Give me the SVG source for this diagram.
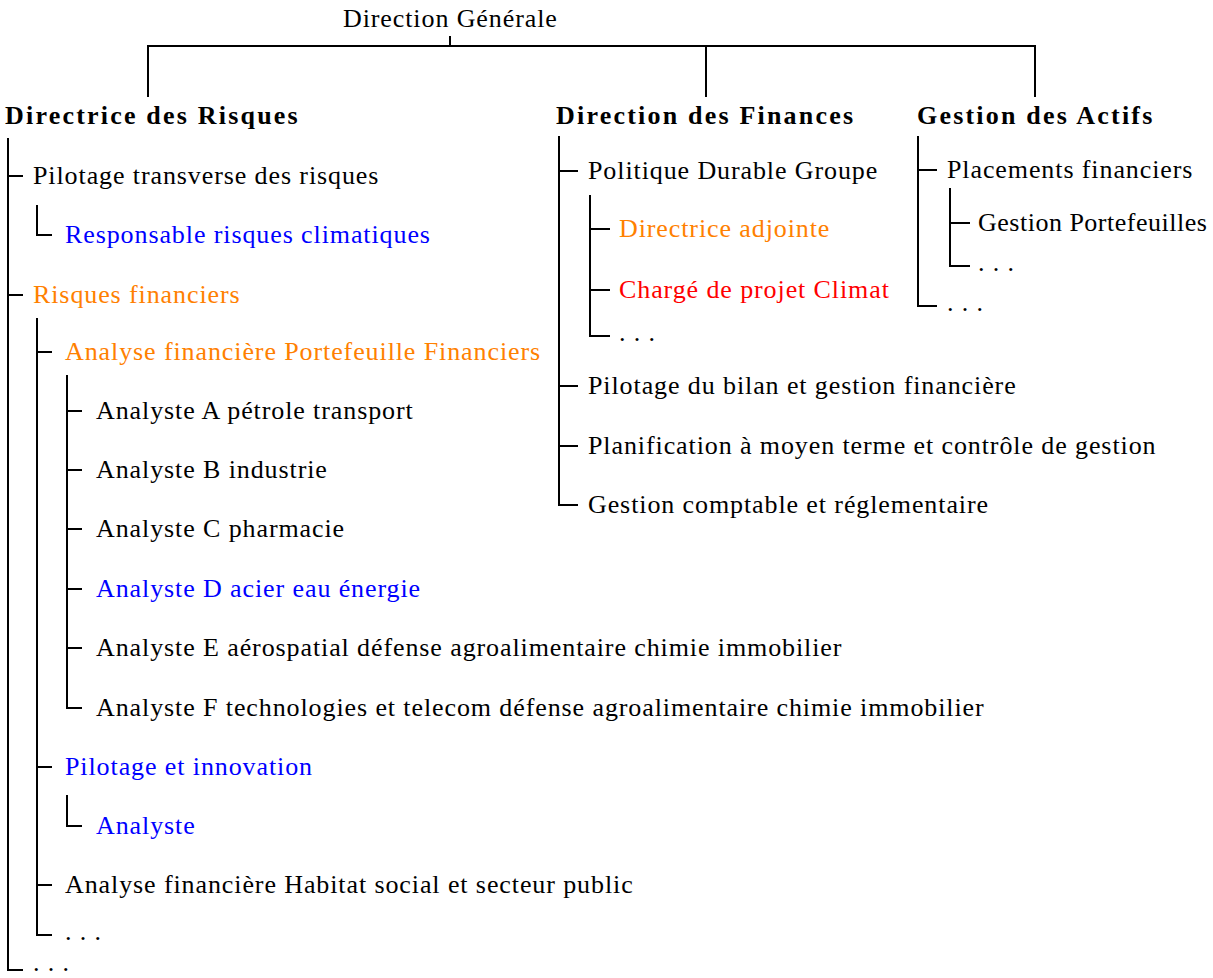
<svg xmlns="http://www.w3.org/2000/svg" width="1213" height="978" viewBox="0 0 1213 978">
<style>
text{font-family:"Liberation Serif","DejaVu Serif",serif;font-size:26px;fill:#000;letter-spacing:0.9px}
.b{font-weight:bold;letter-spacing:2.2px}
.blue{fill:#0000ff}
.orange{fill:#ff8000}
.red{fill:#ff0000}
#connectors path{fill:none;stroke:#000;stroke-width:2}
</style>
<rect width="1213" height="978" fill="#fff"/>
<g id="connectors">
<path d="M450,36V46M148,97V46H1035V97M706,46V97"/>
<path d="M8,138V970H23M8,176H23M8,295H23"/>
<path d="M37,205V235H52"/>
<path d="M37,318V935H52M37,352H52M37,767H52M37,885H52"/>
<path d="M67,375V708H82M67,411H82M67,470H82M67,529H82M67,589H82M67,648H82"/>
<path d="M67,795V826H82"/>
<path d="M559,136V505H578M559,171H578M559,386H578M559,446H578"/>
<path d="M590,195V336H610M590,229H610M590,290H610"/>
<path d="M918,136V306H937M918,170H937"/>
<path d="M950,188V266H970M950,223H970"/>
</g>
<g id="dg"><text x="343" y="27">Direction Générale</text></g>
<g id="risques"><text class="b" x="5" y="124">Directrice des Risques</text></g>
<g id="finances"><text class="b" x="556" y="124">Direction des Finances</text></g>
<g id="actifs"><text class="b" x="917" y="124">Gestion des Actifs</text></g>
<g id="pilotage-transverse"><text x="33" y="184">Pilotage transverse des risques</text></g>
<g id="resp-climat"><text class="blue" x="65" y="243">Responsable risques climatiques</text></g>
<g id="risques-fin"><text class="orange" x="33" y="303">Risques financiers</text></g>
<g id="analyse-pf"><text class="orange" x="65" y="360">Analyse financière Portefeuille Financiers</text></g>
<g id="analyste-a"><text x="96" y="419">Analyste A pétrole transport</text></g>
<g id="analyste-b"><text x="96" y="478">Analyste B industrie</text></g>
<g id="analyste-c"><text x="96" y="537">Analyste C pharmacie</text></g>
<g id="analyste-d"><text class="blue" x="96" y="597">Analyste D acier eau énergie</text></g>
<g id="analyste-e"><text x="96" y="656">Analyste E aérospatial défense agroalimentaire chimie immobilier</text></g>
<g id="analyste-f"><text x="96" y="716">Analyste F technologies et telecom défense agroalimentaire chimie immobilier</text></g>
<g id="pilotage-innov"><text class="blue" x="65" y="775">Pilotage et innovation</text></g>
<g id="analyste"><text class="blue" x="96" y="834">Analyste</text></g>
<g id="habitat"><text x="65" y="893">Analyse financière Habitat social et secteur public</text></g>
<g id="etc1"><text x="65" y="940">. . .</text></g>
<g id="etc0"><text x="33" y="971">. . .</text></g>
<g id="politique"><text x="588" y="179">Politique Durable Groupe</text></g>
<g id="dir-adj"><text class="orange" x="619" y="237">Directrice adjointe</text></g>
<g id="charge"><text class="red" x="619" y="298">Chargé de projet Climat</text></g>
<g id="etc2"><text x="619" y="341">. . .</text></g>
<g id="bilan"><text x="588" y="394">Pilotage du bilan et gestion financière</text></g>
<g id="planif"><text x="588" y="454">Planification à moyen terme et contrôle de gestion</text></g>
<g id="comptable"><text x="588" y="513">Gestion comptable et réglementaire</text></g>
<g id="placements"><text x="947" y="178">Placements financiers</text></g>
<g id="gestion-pf"><text x="978" y="231" style="letter-spacing:0.5px">Gestion Portefeuilles</text></g>
<g id="etc3"><text x="978" y="271">. . .</text></g>
<g id="etc4"><text x="947" y="311">. . .</text></g>
</svg>
